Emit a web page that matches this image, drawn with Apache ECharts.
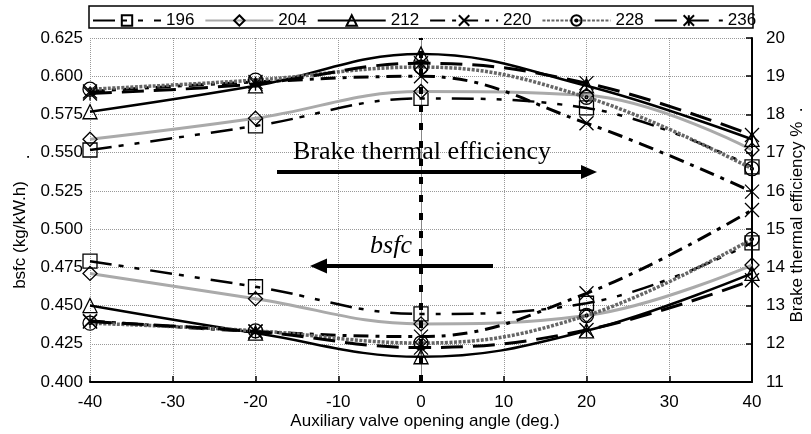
<!DOCTYPE html>
<html><head><meta charset="utf-8">
<script src="https://cdn.jsdelivr.net/npm/echarts@6/dist/echarts.min.js"></script>
<style>html,body{margin:0;padding:0;background:#fff}#c{width:811px;height:434px}</style>
</head><body><div id="c"></div>
<script>
// ---- data ----
const xValues = [-40, -20, 0, 20, 40];
const seriesNames = ['196', '204', '212', '220', '228', '236'];
// Brake thermal efficiency (%), right axis
const bte196 = [17.07, 17.70, 18.42, 18.17, 16.63];
const bte204 = [17.35, 17.90, 18.60, 18.50, 17.07];
const bte212 = [18.07, 18.75, 19.58, 18.75, 17.35];
const bte220 = [18.60, 18.85, 19.00, 17.77, 15.98];
const bte228 = [18.66, 18.90, 19.24, 18.45, 16.58];
const bte236 = [18.55, 18.80, 19.34, 18.82, 17.46];
// bsfc (kg/kW.h), left axis
const bsfc196 = [0.479, 0.4623, 0.4445, 0.4515, 0.491];
const bsfc204 = [0.471, 0.4545, 0.438, 0.4435, 0.4765];
const bsfc212 = [0.450, 0.432, 0.4165, 0.4335, 0.471];
const bsfc220 = [0.440, 0.433, 0.4297, 0.458, 0.5125];
const bsfc228 = [0.4385, 0.4335, 0.4255, 0.4435, 0.4935];
const bsfc236 = [0.4395, 0.433, 0.4225, 0.434, 0.4665];
const bteSets = [bte196, bte204, bte212, bte220, bte228, bte236];
const bsfcSets = [bsfc196, bsfc204, bsfc212, bsfc220, bsfc228, bsfc236];

// ---- styles ----
const symbols = [
  'path://M0,0L20,0L20,20L0,20Z',
  'path://M10,0L20,10L10,20L0,10Z',
  'path://M10,0L20,18L0,18Z',
  'path://M0,0L20,20M20,0L0,20',
  'path://M20,10A10,10,0,1,1,0,10A10,10,0,1,1,20,10ZM12,10A2,2,0,1,1,8,10A2,2,0,1,1,12,10Z',
  'path://M0,0L20,20M20,0L0,20M10,0L10,20'
];
const lineStyles = [
  {color: '#000', width: 2.5, type: [22, 7, 5, 11, 5, 11]},
  {color: '#aaaaaa', width: 3, type: 'solid'},
  {color: '#000', width: 2.5, type: 'solid'},
  {color: '#000', width: 3, type: [15, 7, 4, 7]},
  {color: '#666666', width: 3.5, type: [3, 1.5]},
  {color: '#000', width: 3, type: [22, 10]}
];

function mk(name, idx, vals, axis) {
  return {
    name: name, type: 'line', yAxisIndex: axis, smooth: 0.4,
    data: xValues.map((x, i) => [x, vals[i]]),
    symbol: symbols[idx], symbolSize: 14,
    itemStyle: {color: 'none', borderColor: '#000', borderWidth: 1.3},
    lineStyle: lineStyles[idx],
    emphasis: {disabled: true}, z: 3 + idx
  };
}
const series = [];
seriesNames.forEach((n, i) => series.push(mk(n, i, bteSets[i], 1)));
seriesNames.forEach((n, i) => series.push(mk(n, i, bsfcSets[i], 0)));
series[0].markLine = {
  silent: true, symbol: ['none', 'none'], label: {show: false},
  lineStyle: {color: '#000', width: 4, type: [7, 11]},
  data: [{xAxis: 0}]
};

const font = 'Liberation Sans, Arial, sans-serif';
const chart = echarts.init(document.getElementById('c'), null, {renderer: 'canvas'});
chart.setOption({
  animation: false,
  backgroundColor: '#fff',
  textStyle: {fontFamily: font},
  grid: {left: 90, right: 59, top: 38, bottom: 52},
  legend: {
    data: seriesNames, left: 92, top: 12, padding: 0,
    itemWidth: 68, itemHeight: 13, itemGap: 10,
    textStyle: {fontSize: 17, color: '#000', fontFamily: font}
  },
  xAxis: {
    type: 'value', min: -40, max: 40, interval: 10,
    axisLine: {lineStyle: {color: '#000', width: 2}},
    axisTick: {inside: true, length: 6, lineStyle: {color: '#000', width: 1.5}},
    axisLabel: {fontSize: 17, color: '#000', margin: 12},
    splitLine: {show: true, lineStyle: {color: '#999', type: 'dotted', width: 1}}
  },
  yAxis: [{
    type: 'value', min: 0.4, max: 0.625, interval: 0.025,
    axisLine: {show: true, lineStyle: {color: '#888', width: 1}},
    axisTick: {show: false},
    axisLabel: {fontSize: 17, color: '#000', margin: 7, formatter: v => v.toFixed(3)},
    splitLine: {show: true, lineStyle: {color: '#999', type: 'dotted', width: 1}}
  }, {
    type: 'value', min: 11, max: 20, interval: 1, position: 'right',
    axisLine: {show: true, lineStyle: {color: '#000', width: 2}},
    axisTick: {show: true, inside: true, length: 6, lineStyle: {color: '#000', width: 1.5}},
    axisLabel: {fontSize: 17, color: '#000', margin: 14},
    splitLine: {show: false}
  }],
  graphic: [
    {type: 'rect', shape: {x: 89, y: 6, width: 664, height: 22}, style: {fill: 'none', stroke: '#000', lineWidth: 1.5}, z: 100},
    {type: 'text', x: 293, y: 152, style: {text: 'Brake thermal efficiency', font: '26px "Liberation Serif", "Times New Roman", serif', fill: '#000', textAlign: 'left', textVerticalAlign: 'middle'}, z: 100},
    {type: 'line', shape: {x1: 277, y1: 172, x2: 584, y2: 172}, style: {stroke: '#000', lineWidth: 4}, z: 100},
    {type: 'polygon', shape: {points: [[597, 172], [581, 165], [581, 179]]}, style: {fill: '#000'}, z: 100},
    {type: 'text', x: 412, y: 246, style: {text: 'bsfc', font: 'italic 26px "Liberation Serif", "Times New Roman", serif', fill: '#000', textAlign: 'right', textVerticalAlign: 'middle'}, z: 100},
    {type: 'line', shape: {x1: 323, y1: 266, x2: 493, y2: 266}, style: {stroke: '#000', lineWidth: 4}, z: 100},
    {type: 'polygon', shape: {points: [[310, 266], [327, 258.5], [327, 273.5]]}, style: {fill: '#000'}, z: 100},
    {type: 'text', x: 425, y: 421, style: {text: 'Auxiliary valve opening angle (deg.)', font: '17px ' + font, fill: '#000', textAlign: 'center', textVerticalAlign: 'middle'}, z: 100},
    {type: 'text', x: 20, y: 235, rotation: Math.PI / 2, style: {text: 'bsfc (kg/kW.h)', font: '17px ' + font, fill: '#000', textAlign: 'center', textVerticalAlign: 'middle'}, z: 100},
    {type: 'text', x: 24, y: 157, rotation: Math.PI / 2, style: {text: '.', font: '17px ' + font, fill: '#000', textAlign: 'center', textVerticalAlign: 'middle'}, z: 100},
    {type: 'text', x: 797, y: 215, rotation: Math.PI / 2, style: {text: 'Brake thermal efficiency %  .', font: '17px ' + font, fill: '#000', textAlign: 'center', textVerticalAlign: 'middle'}, z: 100}
  ],
  series: series
});
</script></body></html>
